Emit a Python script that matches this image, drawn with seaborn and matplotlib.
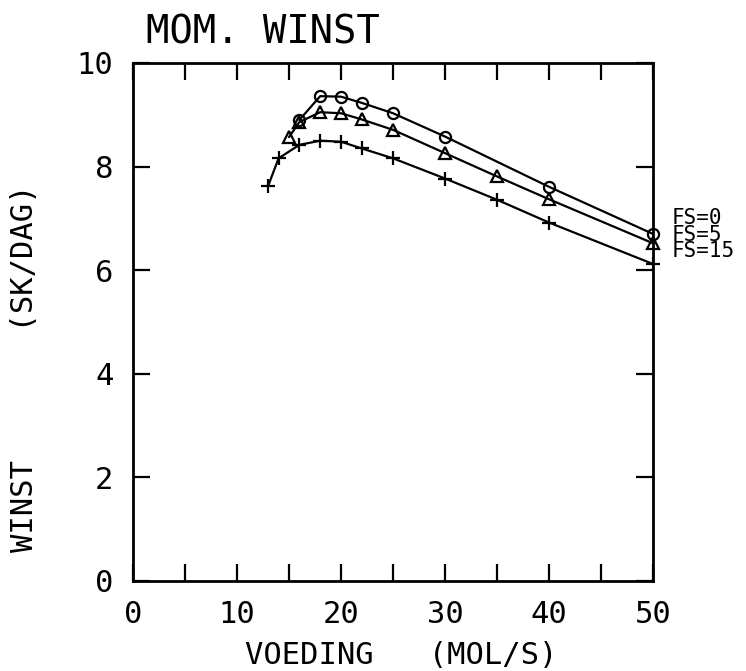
import matplotlib
matplotlib.use("Agg")
import matplotlib.pyplot as plt
import seaborn as sns
import pandas as pd
from matplotlib.ticker import MultipleLocator

# ---- data ----
x_fs0 = [16, 18, 20, 22, 25, 30, 40, 50]
y_fs0 = [8.90, 9.36, 9.35, 9.23, 9.03, 8.58, 7.61, 6.70]

x_fs5 = [15, 16, 18, 20, 22, 25, 30, 35, 40, 50]
y_fs5 = [8.57, 8.86, 9.05, 9.03, 8.91, 8.71, 8.26, 7.81, 7.37, 6.52]

x_fs15 = [13, 14, 16, 18, 20, 22, 25, 30, 35, 40, 50]
y_fs15 = [7.63, 8.16, 8.42, 8.50, 8.48, 8.35, 8.16, 7.77, 7.36, 6.92, 6.12]

series_labels = ["FS=0", "FS=5", "FS=15"]

x_ticks = [0, 10, 20, 30, 40, 50]
y_ticks = [0, 2, 4, 6, 8, 10]

title = "MOM. WINST"
xlabel = "VOEDING   (MOL/S)"
ylabel = "WINST       (SK/DAG)"

sns.set_theme(style="ticks")
plt.rcParams["font.family"] = ["DejaVu Sans Mono", "DejaVu Sans"]
plt.rcParams["text.color"] = "black"
plt.rcParams["axes.labelcolor"] = "black"
plt.rcParams["xtick.color"] = "black"
plt.rcParams["ytick.color"] = "black"

fig = plt.figure(figsize=(7.46, 6.71), dpi=100)
ax = fig.add_axes([133 / 746, 1 - 581 / 671, (653 - 133) / 746, (581 - 63) / 671])

frames = []
for lab, xs, ys in [(series_labels[0], x_fs0, y_fs0),
                    (series_labels[1], x_fs5, y_fs5),
                    (series_labels[2], x_fs15, y_fs15)]:
    frames.append(pd.DataFrame({"x": xs, "y": ys, "fs": lab}))
df = pd.concat(frames, ignore_index=True)

markers = {"FS=0": "o", "FS=5": "^", "FS=15": "+"}
msize = {"FS=0": 8, "FS=5": 8, "FS=15": 10}
for lab in series_labels:
    sub = df[df["fs"] == lab]
    sns.lineplot(data=sub, x="x", y="y", ax=ax, color="black", sort=False,
                 estimator=None, linewidth=1.6, marker=markers[lab],
                 markersize=msize[lab], markerfacecolor="none",
                 markeredgecolor="black", markeredgewidth=1.6, clip_on=False)

# series labels at the right end, stacked tightly as in the reference
ax.text(51.8, 6.68, "\n".join(series_labels), fontsize=15, ha="left",
        va="center", color="black", linespacing=0.78)

ax.set_xlim(0, 50)
ax.set_ylim(0, 10)
ax.set_xticks(x_ticks)
ax.set_yticks(y_ticks)
ax.xaxis.set_minor_locator(MultipleLocator(5))
ax.tick_params(axis="both", which="both", direction="in", top=True, right=True,
               length=12, width=1.6, color="black")
ax.tick_params(axis="y", which="major", labelsize=22, pad=14)
ax.tick_params(axis="x", which="major", labelsize=22, pad=14)
for s in ax.spines.values():
    s.set_linewidth(2)
    s.set_color("black")

ax.set_xlabel(xlabel, fontsize=22)
ax.xaxis.set_label_coords(0.515, -0.115)
ax.set_ylabel(ylabel, fontsize=22)
ax.yaxis.set_label_coords(-0.18, 0.41)
ax.set_title(title, fontsize=28, loc="left", x=0.025, pad=14)
if ax.legend_:
    ax.legend_.remove()

fig.savefig("out.png", dpi=100, facecolor="white")
